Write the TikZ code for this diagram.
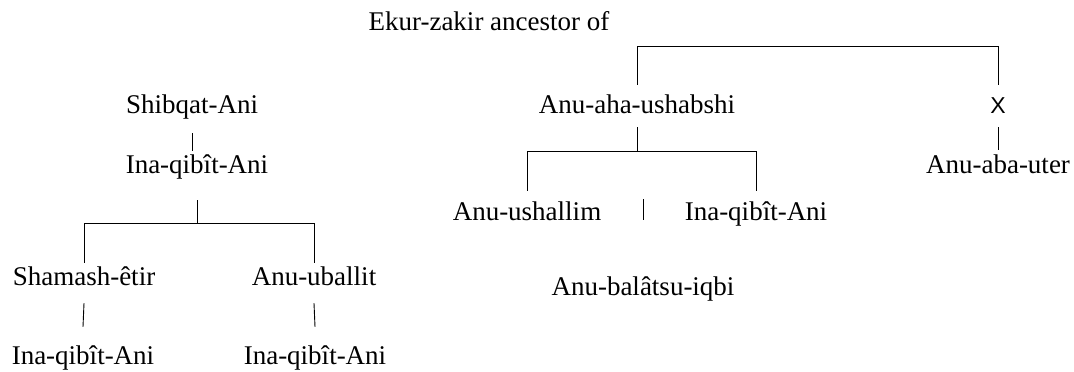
\documentclass[tikz,border=0pt]{standalone}
\usepackage{fontspec}
\setmainfont{Liberation Serif}
\setsansfont{Liberation Sans}
\usetikzlibrary{calc}
\newcommand{\pname}{\fontsize{27}{31}\selectfont}
\tikzset{
  person/.style={anchor=base,inner sep=0pt,text height=18pt,text depth=6pt,
                 font=\pname},
  unknown/.style={person,font=\sffamily\fontsize{23}{28}\selectfont},
  kin/.style={draw=black,line width=.9pt},
}
\begin{document}
\begin{tikzpicture}[x=1pt,y=-1pt]
  \useasboundingbox (0,0) rectangle (1074,372);
  % right-hand family
  \node[person]  (ekur)       at (489, 30) {Ekur-zakir ancestor of};
  \node[person]  (anuaha)     at (637,113) {Anu-aha-ushabshi};
  \node[unknown] (xx)         at (998,113) {X};
  \node[person]  (anuaba)     at (998,173) {Anu-aba-uter};
  \node[person]  (anushallim) at (527,220) {Anu-ushallim};
  \node[person]  (inaR)       at (756,220) {Ina-qibît-Ani};
  \node[person]  (balatsu)    at (643,295) {Anu-balâtsu-iqbi};
  % left-hand family
  \node[person]  (shibqat)    at (192,113) {Shibqat-Ani};
  \node[person]  (inaL)       at (197,173) {Ina-qibît-Ani};
  \node[person]  (shamash)    at ( 84,285) {Shamash-êtir};
  \node[person]  (anuuballit) at (314,285) {Anu-uballit};
  \node[person]  (inaSh)      at ( 83,364) {Ina-qibît-Ani};
  \node[person]  (inaAnu)     at (315,364) {Ina-qibît-Ani};
  \coordinate (topbar) at (0, 46);
  \coordinate (midbar) at (0,151);
  \coordinate (lowbar) at (0,223);
  \draw[kin] ([yshift=10pt]anuaha.north) -- (anuaha.north |- topbar)
    -| ([yshift=10pt]xx.north);
  \draw[kin] ([yshift=-8pt]anuaha.south) -- (anuaha.south |- midbar);
  \draw[kin] ([yshift=11pt]anushallim.north) -- (anushallim.north |- midbar)
    -- (inaR.north |- midbar) -- ([yshift=11pt]inaR.north);
  \draw[kin] ([yshift=-8pt]xx.south) -- ([yshift=5pt]anuaba.north);
  \draw[kin] ([yshift=57pt]balatsu.north) -- ([yshift=78pt]balatsu.north);
  \draw[kin] ([yshift=-14pt]shibqat.south) -- ([yshift=4pt]shibqat.south |- inaL.north);
  \draw[kin] ([yshift=-21pt]inaL.south) -- (inaL.south |- lowbar);
  \draw[kin] ([yshift=4pt]shamash.north) -- (shamash.north |- lowbar)
    -- (anuuballit.north |- lowbar) -- ([yshift=4pt]anuuballit.north);
  \foreach \a/\b in {shamash/inaSh,anuuballit/inaAnu}
    \draw[kin] ([yshift=-12pt]\a.south) -- ([yshift=19pt]\b.north);
\end{tikzpicture}
\end{document}
